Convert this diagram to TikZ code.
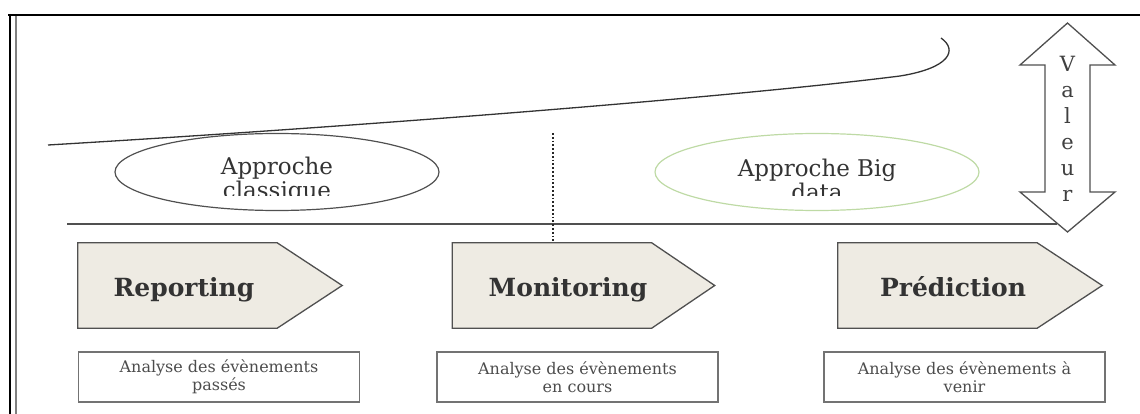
\documentclass[tikz,border=0pt]{standalone}
\usepackage{fontspec}
\setmainfont{DejaVu Serif}
\usetikzlibrary{shapes.geometric}
\definecolor{boxfill}{RGB}{238,235,227}
\definecolor{linegray}{RGB}{80,80,80}
\definecolor{palegreen}{RGB}{190,218,165}

\begin{document}
\begin{tikzpicture}[x=1pt,y=-1pt,
    phase/.style={minimum width=199, minimum height=85, inner sep=0pt},
    phasetext/.style={font=\fontsize{25}{28}\selectfont\bfseries, text=black!80, anchor=base},
    arrowbox/.style={draw=linegray, fill=boxfill, line width=1.3},
    approche/.style={ellipse, draw, line width=1.2, minimum width=324, minimum height=77},
    approchetext/.style={font=\fontsize{23}{24}\selectfont, text=black!80, align=center},
    infobox/.style={draw=black!55, line width=1.5, minimum width=281, minimum height=50,
      font=\fontsize{16}{18}\selectfont, text=black!70, align=center, inner sep=0pt}]
  \useasboundingbox (0,0) rectangle (1140,414);
  % frame
  \draw [black, line width=2.5] (8,15) -- (1140,15);
  \draw [black, line width=2.5] (10,14) -- (10,414);
  \draw [black!50, line width=2] (16,16) -- (16,414);
  % value curve
  \draw [black!80, line width=1.3] (48,145) .. controls (400,124) and (750,95) .. (900,76)
        .. controls (950,68) and (958,50) .. (941,38);
  % approaches
  \node (cla) [approche, draw=linegray] at (277,172) {};
  \node (big) [approche, draw=palegreen] at (817,172) {};
  \begin{scope}
    \clip (100,130) rectangle (1000,196);
    \node (clatxt) [approchetext] at (277,180) {Approche\\classique};
    \node (bigtxt) [approchetext] at (817,180) {Approche Big\\data};
  \end{scope}
  \draw [linegray, line width=1.5] (67,224) -- (1057,224);
  % value arrow
  \coordinate (val) at (1067.5,23);
  \draw [linegray, fill=white, line width=1.3] (val) -- ++(47.5,42) -- ++(-25,0) -- ++(0,127)
        -- ++(25,0) -- ++(-47.5,40) -- ++(-47.5,-40) -- ++(25,0) -- ++(0,-127) -- ++(-25,0) -- cycle;
  \node (valtxt) [font=\fontsize{21}{26}\selectfont, text=black!75, align=center] at (1067.5,129)
        {V\\a\\l\\e\\u\\r};
  % phases
  \node (rep) [phase] at (177.5,285.5) {};
  \draw [arrowbox] (rep.north west) -- (rep.north east) -- ([xshift=65]rep.east)
        -- (rep.south east) -- (rep.south west) -- cycle;
  \node (reptxt) [phasetext] at (184,296) {Reporting};
  \node (mon) [phase] at (552,285.5) {};
  \draw [arrowbox] (mon.north west) -- (mon.north east) -- ([xshift=63]mon.east)
        -- (mon.south east) -- (mon.south west) -- cycle;
  \node (montxt) [phasetext] at (568,296) {Monitoring};
  \node (pre) [phase] at (937.5,285.5) {};
  \draw [arrowbox] (pre.north west) -- (pre.north east) -- ([xshift=65]pre.east)
        -- (pre.south east) -- (pre.south west) -- cycle;
  \node (pretxt) [phasetext] at (953,296) {Prédiction};
  \coordinate (dot) at (553,133);
  \draw [black!85, dotted, line width=1.8] (dot) -- (dot |- mon.north);
  % descriptions
  \node (repinfo) [infobox] at (219,377) {Analyse des évènements\\passés};
  \node (moninfo) [infobox] at (577.5,377) {Analyse des évènements\\en cours};
  \node (preinfo) [infobox] at (964.5,377) {Analyse des évènements à\\venir};
\end{tikzpicture}
\end{document}
